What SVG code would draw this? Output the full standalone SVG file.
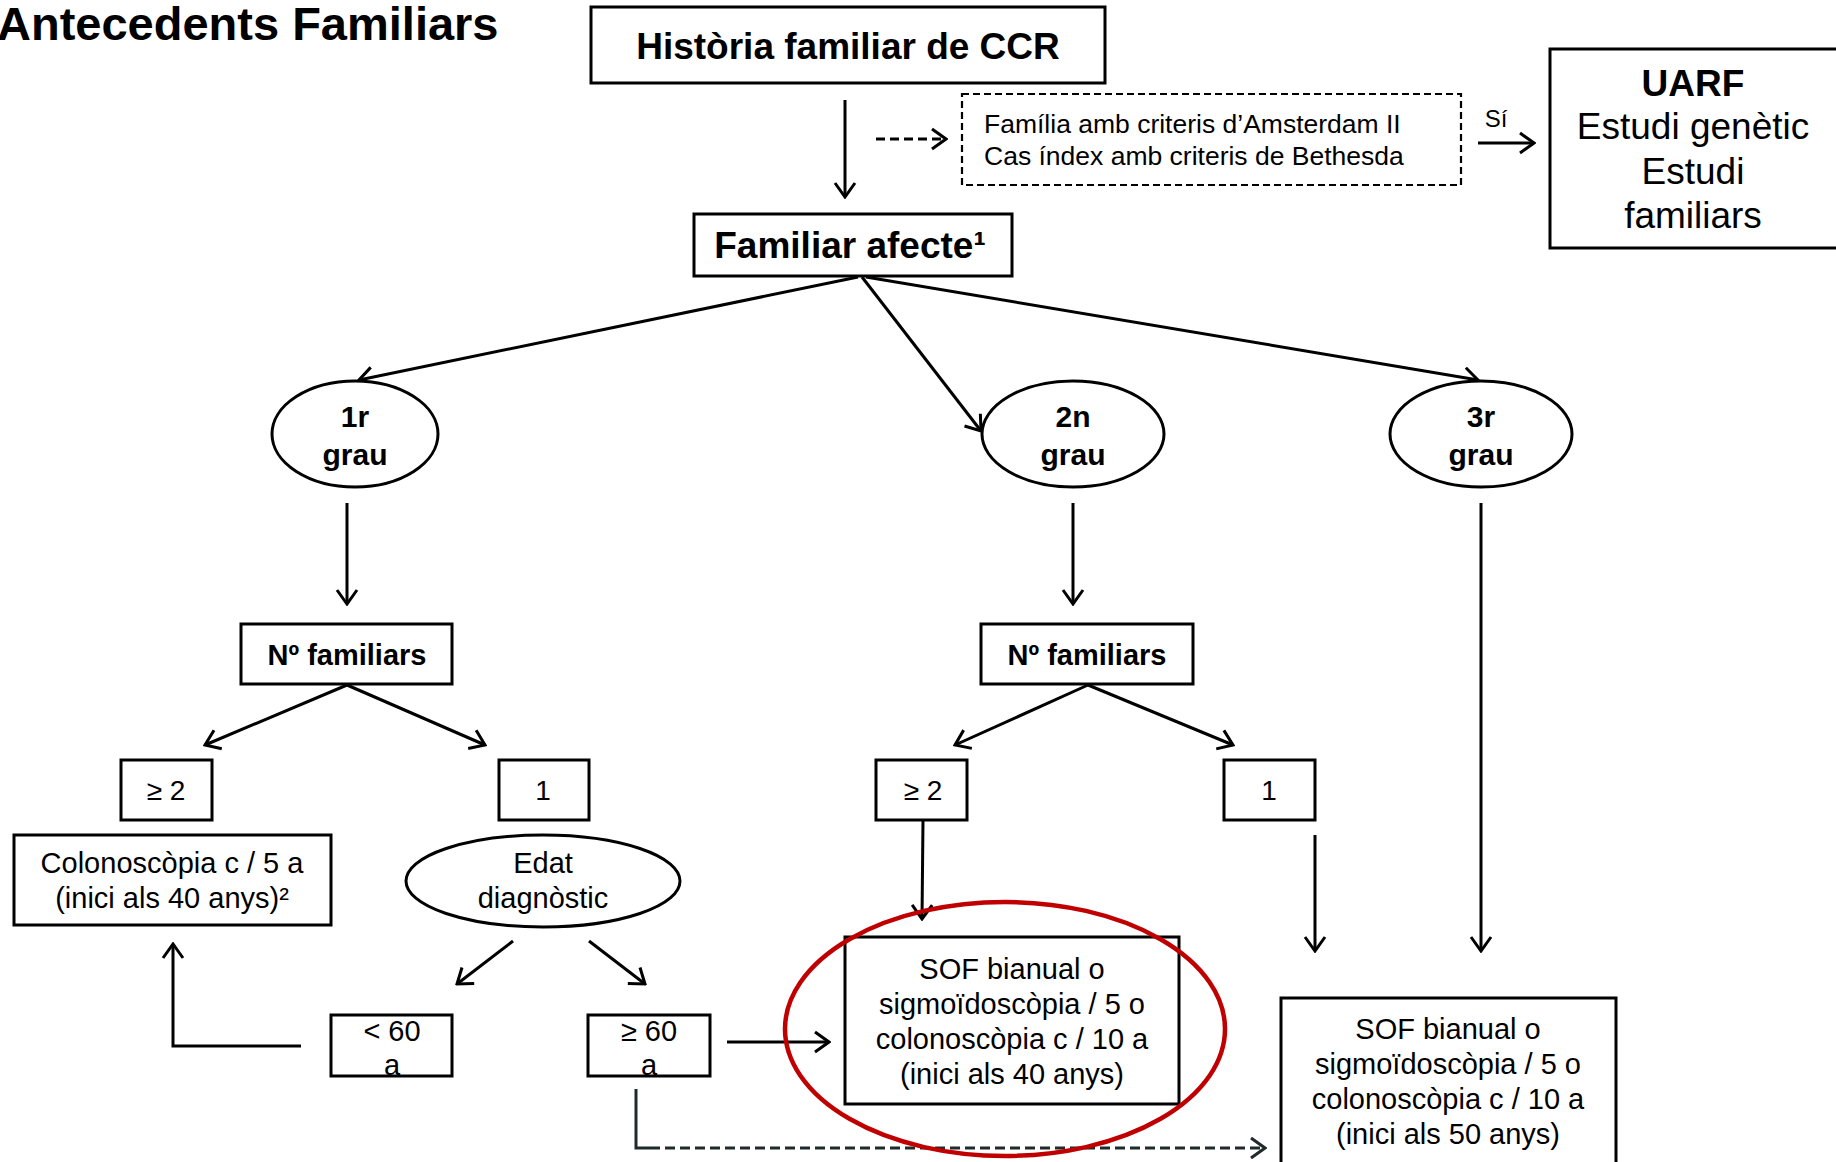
<svg xmlns="http://www.w3.org/2000/svg" width="1836" height="1162" viewBox="0 0 1836 1162">
<defs>
<style>
.box{fill:#fff;stroke:#000;stroke-width:3}
.dbox{fill:#fff;stroke:#000;stroke-width:2.2;stroke-dasharray:7 4}
.ell{fill:#fff;stroke:#000;stroke-width:3}
.t{font-family:"Liberation Sans",Arial,sans-serif;fill:#000;text-anchor:middle}
.b{font-weight:bold}
.ln{fill:none;stroke:#000;stroke-width:3}
.dl{fill:none;stroke:#1f2a2a;stroke-width:3;stroke-dasharray:10 5}
</style>
<marker id="ah" viewBox="-2 -12 18 24" refX="14" refY="0" markerWidth="18" markerHeight="24" markerUnits="userSpaceOnUse" orient="auto">
<path d="M0,-10 L14,0 L0,10" fill="none" stroke="#000" stroke-width="3"/>
</marker>
<marker id="ahd" viewBox="-2 -12 18 24" refX="14" refY="0" markerWidth="18" markerHeight="24" markerUnits="userSpaceOnUse" orient="auto">
<path d="M0,-10 L14,0 L0,10" fill="none" stroke="#1f2a2a" stroke-width="3"/>
</marker>
</defs>
<rect width="1836" height="1162" fill="#fff"/>
<text class="t b" x="-3" y="40" font-size="47" style="text-anchor:start">Antecedents Familiars</text>

<g id="connectors">
<line class="ln" x1="845" y1="100" x2="845" y2="197" marker-end="url(#ah)"/>
<line class="ln" x1="876" y1="139" x2="946" y2="139" stroke-dasharray="9 5" marker-end="url(#ah)"/>
<line class="ln" x1="1478" y1="143" x2="1534" y2="143" marker-end="url(#ah)"/>
<line class="ln" x1="858" y1="277" x2="359" y2="380" marker-end="url(#ah)"/>
<line class="ln" x1="862" y1="277" x2="981" y2="431" marker-end="url(#ah)"/>
<line class="ln" x1="866" y1="277" x2="1478" y2="380" marker-end="url(#ah)"/>
<line class="ln" x1="347" y1="503" x2="347" y2="604" marker-end="url(#ah)"/>
<line class="ln" x1="1073" y1="503" x2="1073" y2="604" marker-end="url(#ah)"/>
<line class="ln" x1="1481" y1="503" x2="1481" y2="951" marker-end="url(#ah)"/>
<line class="ln" x1="347" y1="685" x2="205" y2="745" marker-end="url(#ah)"/>
<line class="ln" x1="347" y1="685" x2="485" y2="745" marker-end="url(#ah)"/>
<line class="ln" x1="1088" y1="685" x2="955" y2="745" marker-end="url(#ah)"/>
<line class="ln" x1="1088" y1="685" x2="1233" y2="745" marker-end="url(#ah)"/>
<line class="ln" x1="513" y1="941" x2="457" y2="984" marker-end="url(#ah)"/>
<line class="ln" x1="589" y1="941" x2="645" y2="984" marker-end="url(#ah)"/>
<polyline class="ln" points="301,1046 173,1046 173,944" marker-end="url(#ah)"/>
<line class="ln" x1="727" y1="1042" x2="829" y2="1042" marker-end="url(#ah)"/>
<polyline fill="none" stroke="#1f2a2a" stroke-width="3" points="636,1089 636,1148 650,1148"/>
<line class="dl" x1="650" y1="1148" x2="1265" y2="1148" marker-end="url(#ahd)"/>
<line class="ln" x1="923" y1="820" x2="922" y2="919" marker-end="url(#ah)"/>
<line class="ln" x1="1315" y1="835" x2="1315" y2="951" marker-end="url(#ah)"/>
</g>

<g id="historia">
<rect class="box" x="591" y="7" width="514" height="76"/>
<text class="t b" x="848" y="59" font-size="37">Història familiar de CCR</text>
</g>
<g id="criteris">
<rect class="dbox" x="962" y="94" width="499" height="91"/>
<text class="t" x="984" y="133" font-size="26.5" style="text-anchor:start">Família amb criteris d’Amsterdam II</text>
<text class="t" x="984" y="165" font-size="26.5" style="text-anchor:start">Cas índex amb criteris de Bethesda</text>
</g>
<g id="si"><text class="t" x="1496" y="127" font-size="24">Sí</text></g>
<g id="uarf">
<rect class="box" x="1550" y="49" width="300" height="199"/>
<text class="t b" x="1693" y="96" font-size="37">UARF</text>
<text class="t" x="1693" y="139" font-size="37">Estudi genètic</text>
<text class="t" x="1693" y="184" font-size="37">Estudi</text>
<text class="t" x="1693" y="228" font-size="37">familiars</text>
</g>
<g id="afecte">
<rect class="box" x="694" y="214" width="318" height="62"/>
<text class="t b" x="850" y="258" font-size="37">Familiar afecte¹</text>
</g>
<g id="grau1">
<ellipse class="ell" cx="355" cy="434" rx="83" ry="53"/>
<text class="t b" x="355" y="427" font-size="30">1r</text>
<text class="t b" x="355" y="465" font-size="30">grau</text>
</g>
<g id="grau2">
<ellipse class="ell" cx="1073" cy="434" rx="91" ry="53"/>
<text class="t b" x="1073" y="427" font-size="30">2n</text>
<text class="t b" x="1073" y="465" font-size="30">grau</text>
</g>
<g id="grau3">
<ellipse class="ell" cx="1481" cy="434" rx="91" ry="53"/>
<text class="t b" x="1481" y="427" font-size="30">3r</text>
<text class="t b" x="1481" y="465" font-size="30">grau</text>
</g>
<g id="nfam1">
<rect class="box" x="241" y="624" width="211" height="60"/>
<text class="t b" x="347" y="665" font-size="29">Nº familiars</text>
</g>
<g id="nfam2">
<rect class="box" x="981" y="624" width="212" height="60"/>
<text class="t b" x="1087" y="665" font-size="29">Nº familiars</text>
</g>
<g id="ge2a">
<rect class="box" x="121" y="760" width="91" height="60"/>
<text class="t" x="166" y="800" font-size="28">≥ 2</text>
</g>
<g id="u1a">
<rect class="box" x="499" y="760" width="90" height="60"/>
<text class="t" x="543" y="800" font-size="28">1</text>
</g>
<g id="ge2b">
<rect class="box" x="876" y="760" width="91" height="60"/>
<text class="t" x="923" y="800" font-size="28">≥ 2</text>
</g>
<g id="u1b">
<rect class="box" x="1224" y="760" width="91" height="60"/>
<text class="t" x="1269" y="800" font-size="28">1</text>
</g>
<g id="colono">
<rect class="box" x="14" y="835" width="317" height="90"/>
<text class="t" x="172" y="873" font-size="29">Colonoscòpia c / 5 a</text>
<text class="t" x="172" y="908" font-size="29">(inici als 40 anys)²</text>
</g>
<g id="edat">
<ellipse class="ell" cx="543" cy="881" rx="137" ry="46"/>
<text class="t" x="543" y="873" font-size="29">Edat</text>
<text class="t" x="543" y="908" font-size="29">diagnòstic</text>
</g>
<g id="lt60">
<rect class="box" x="331" y="1015" width="121" height="61"/>
<text class="t" x="392" y="1041" font-size="29">&lt; 60</text>
<text class="t" x="392" y="1075" font-size="29">a</text>
</g>
<g id="ge60">
<rect class="box" x="588" y="1015" width="122" height="61"/>
<text class="t" x="649" y="1041" font-size="29">≥ 60</text>
<text class="t" x="649" y="1075" font-size="29">a</text>
</g>
<g id="sof40">
<rect class="box" x="845" y="937" width="334" height="167"/>
<text class="t" x="1012" y="979" font-size="29">SOF bianual o</text>
<text class="t" x="1012" y="1014" font-size="29">sigmoïdoscòpia / 5 o</text>
<text class="t" x="1012" y="1049" font-size="29">colonoscòpia c / 10 a</text>
<text class="t" x="1012" y="1084" font-size="29">(inici als 40 anys)</text>
</g>
<g id="sof50">
<rect class="box" x="1281" y="998" width="335" height="180"/>
<text class="t" x="1448" y="1039" font-size="29">SOF bianual o</text>
<text class="t" x="1448" y="1074" font-size="29">sigmoïdoscòpia / 5 o</text>
<text class="t" x="1448" y="1109" font-size="29">colonoscòpia c / 10 a</text>
<text class="t" x="1448" y="1144" font-size="29">(inici als 50 anys)</text>
</g>
<g id="highlight">
<ellipse cx="1005" cy="1029" rx="220" ry="127" fill="none" stroke="#c00000" stroke-width="4.5"/>
</g>
</svg>
